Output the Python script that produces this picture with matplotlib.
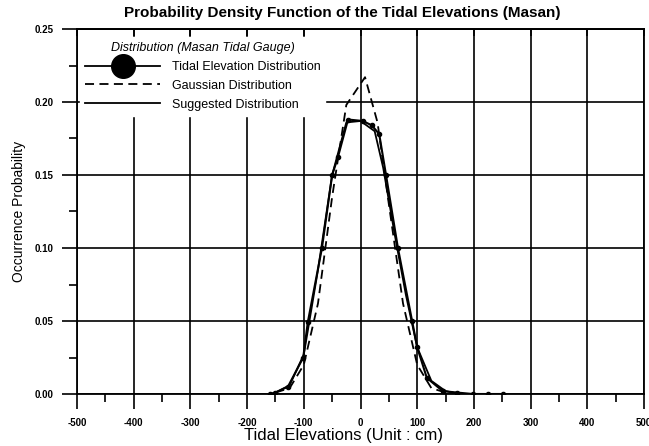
import matplotlib
matplotlib.use("Agg")
import matplotlib.pyplot as plt
from matplotlib.lines import Line2D
from matplotlib.ticker import MultipleLocator

plt.rcParams["font.family"] = ["Liberation Sans", "DejaVu Sans"]

# observed tidal elevation distribution (cm, probability)
obs_x = [-160, -150, -128, -101, -93, -68, -50, -40, -22, 4, 20, 33, 45, 66, 91, 100, 117, 145, 170, 198, 225, 251]
obs_y = [0.000, 0.001, 0.005, 0.025, 0.049, 0.100, 0.150, 0.162, 0.188, 0.187, 0.184, 0.178, 0.150, 0.100,
         0.050, 0.032, 0.011, 0.002, 0.001, 0.000, 0.000, 0.000]

# gaussian fit
gau_x = [-150, -125, -100, -75, -50, -25, 8, 30, 50, 75, 100, 125, 150]
gau_y = [0.001, 0.004, 0.020, 0.062, 0.135, 0.198, 0.217, 0.186, 0.130, 0.062, 0.020, 0.004, 0.001]

# suggested distribution
sug_x = [-155, -125, -100, -75, -50, -25, 0, 25, 40, 60, 80, 100, 125, 150, 175]
sug_y = [0.000, 0.006, 0.027, 0.085, 0.150, 0.186, 0.187, 0.180, 0.155, 0.110, 0.068, 0.032, 0.009, 0.002, 0.000]

labels = ["Tidal Elevation Distribution", "Gaussian Distribution", "Suggested Distribution"]

fig = plt.figure(figsize=(6.49, 4.46), dpi=100)
ax = fig.add_axes([77 / 649, 1 - 394 / 446, 567 / 649, 365 / 446])

ax.plot(sug_x, sug_y, color="black", lw=1.3, zorder=3)
ax.plot(gau_x, gau_y, color="black", lw=1.3, ls=(0, (5, 3)), zorder=3)
ax.plot(obs_x, obs_y, color="black", lw=1.5, marker="o", ms=3, zorder=4)

ax.set_xlim(-500, 500)
ax.set_ylim(0, 0.25)
ax.xaxis.set_major_locator(MultipleLocator(100))
ax.xaxis.set_minor_locator(MultipleLocator(50))
ax.yaxis.set_major_locator(MultipleLocator(0.05))
ax.yaxis.set_minor_locator(MultipleLocator(0.025))
ax.xaxis.set_major_formatter(lambda v, p: f"{v:.0f}")
ax.yaxis.set_major_formatter(lambda v, p: f"{v:.2f}")
ax.grid(True, which="major", color="black", lw=1.2)
ax.tick_params(which="major", direction="out", length=11, width=1.2, labelsize=7, pad=6)
ax.tick_params(which="minor", direction="out", length=6, width=1.2)
for lab in ax.get_xticklabels() + ax.get_yticklabels():
    lab.set_fontweight("bold")
for s in ax.spines.values():
    s.set_linewidth(1.3)

# short inward ticks along the top edge
top = ax.secondary_xaxis("top")
top.xaxis.set_major_locator(MultipleLocator(100))
top.tick_params(direction="in", length=5, width=1.2, labeltop=False)
top.spines["top"].set_linewidth(1.3)

ax.set_xlabel("Tidal Elevations (Unit : cm)", fontsize=12)
ax.xaxis.set_label_coords((343 - 77) / 567, -0.092)
ax.set_ylabel("Occurrence Probability", fontsize=10, labelpad=6)
fig.text(342 / 649, 1 - 13 / 446, "Probability Density Function of the Tidal Elevations (Masan)",
         ha="center", va="center", fontsize=11, fontweight="bold")

handles = [
    Line2D([], [], color="black", lw=1.3, marker="o", ms=17),
    Line2D([], [], color="black", lw=1.3, ls=(0, (5, 3))),
    Line2D([], [], color="black", lw=1.3),
]
leg = ax.legend(handles, labels, title="Distribution (Masan Tidal Gauge)", loc="upper left",
                bbox_to_anchor=(0.006, 0.978), borderaxespad=0, fontsize=9,
                handlelength=6.0, handletextpad=0.9, labelspacing=0.55, borderpad=0.4,
                frameon=True, fancybox=False, framealpha=1, edgecolor="white", facecolor="white")
leg.get_title().set_fontsize(9)
leg.get_title().set_fontstyle("italic")
leg.set_zorder(5)

fig.savefig("out.png", dpi=100)
